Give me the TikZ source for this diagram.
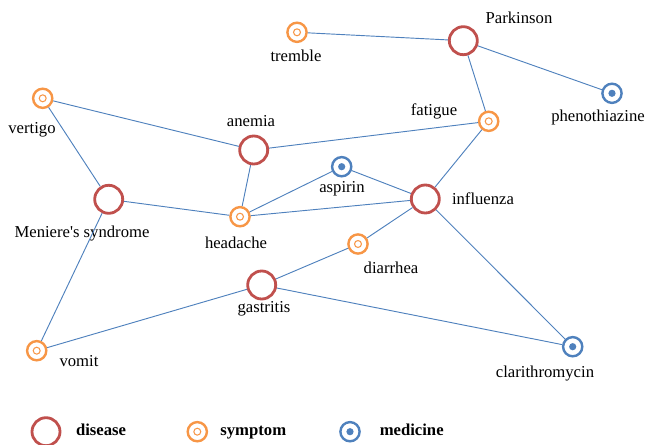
\documentclass[tikz,border=0pt]{standalone}
\usepackage{fontspec}
\setmainfont{Liberation Serif}
\usepackage{tikz}

\definecolor{diseasered}{HTML}{C0504D}
\definecolor{symptomorange}{HTML}{F79646}
\definecolor{medicineblue}{HTML}{4F81BD}

\begin{document}
\begin{tikzpicture}[x=0.75pt,y=-0.75pt,
		disease/.style={circle,draw=diseasered,line width=2.1pt,minimum size=21pt,inner sep=0pt},
		symptom/.style={circle,draw=symptomorange,line width=1.8pt,minimum size=14.4pt,inner sep=0pt,
			path picture={\draw[symptomorange,line width=0.8pt] (path picture bounding box.center) circle (2.6pt);}},
		medicine/.style={circle,draw=medicineblue,line width=1.8pt,minimum size=14.4pt,inner sep=0pt,
			path picture={\fill[medicineblue] (path picture bounding box.center) circle (2.7pt);}},
		lbl/.style={inner sep=0pt,font={\fontsize{12.5}{15}\selectfont}},
		legend/.style={inner sep=0pt,text height=1.6ex,text depth=0.4ex,font={\fontsize{12.5}{15}\selectfont\bfseries}},
		edge/.style={draw=medicineblue,line width=0.7pt}]

			\useasboundingbox (0,0) rectangle (646,445);

				% diseases
				\node[disease] (parkinson) at (463.3,40.7) {};
				\node[disease] (anemia) at (253.7,150) {};
				\node[disease] (meniere) at (108.7,199.3) {};
				\node[disease] (influenza) at (425.3,199) {};
				\node[disease] (gastritis) at (261.7,285) {};

				% symptoms
				\node[symptom] (tremble) at (297,32.3) {};
				\node[symptom] (vertigo) at (42.7,98.3) {};
				\node[symptom] (fatigue) at (488.7,121.3) {};
				\node[symptom] (headache) at (240,216.7) {};
				\node[symptom] (diarrhea) at (358,244) {};
				\node[symptom] (vomit) at (36.7,350.7) {};

				% medicines
				\node[medicine] (phenothiazine) at (612,93.3) {};
				\node[medicine] (aspirin) at (341.7,166.7) {};
				\node[medicine] (clarithromycin) at (572.7,346.7) {};

				% labels
				\node[lbl] (tremble-l) at (296,56) {tremble};
				\node[lbl] (parkinson-l) at (519,18) {Parkinson};
				\node[lbl] (phenothiazine-l) at (598,117) {phenothiazine};
				\node[lbl] (vertigo-l) at (32,130) {vertigo};
				\node[lbl] (fatigue-l) at (434,111) {fatigue};
				\node[lbl] (anemia-l) at (251,121) {anemia};
				\node[lbl] (aspirin-l) at (342,189) {aspirin};
				\node[lbl] (meniere-l) at (82,234) {Meniere\textquotesingle s syndrome};
				\node[lbl] (influenza-l) at (483,199) {influenza};
				\node[lbl] (headache-l) at (236,243) {headache};
				\node[lbl] (diarrhea-l) at (391,268) {diarrhea};
				\node[lbl] (gastritis-l) at (264,309) {gastritis};
				\node[lbl] (vomit-l) at (79,361) {vomit};
				\node[lbl] (clarithromycin-l) at (545,374) {clarithromycin};

				% edges
				\draw[edge] (tremble) -- (parkinson);
				\draw[edge] (parkinson) -- (phenothiazine);
				\draw[edge] (parkinson) -- (fatigue);
				\draw[edge] (vertigo) -- (anemia);
				\draw[edge] (vertigo) -- (meniere);
				\draw[edge] (anemia) -- (fatigue);
				\draw[edge] (anemia) -- (headache);
				\draw[edge] (meniere) -- (headache);
				\draw[edge] (meniere) -- (vomit);
				\draw[edge] (headache) -- (aspirin);
				\draw[edge] (headache) -- (influenza);
				\draw[edge] (aspirin) -- (influenza);
				\draw[edge] (fatigue) -- (influenza);
				\draw[edge] (influenza) -- (diarrhea);
				\draw[edge] (influenza) -- (clarithromycin);
				\draw[edge] (diarrhea) -- (gastritis);
				\draw[edge] (gastritis) -- (vomit);
				\draw[edge] (gastritis) -- (clarithromycin);

				% legend
				\node[disease] (key-disease) at (46,431.7) {};
				\node[legend] (key-disease-l) at (101,431.7) {disease};
				\node[symptom] (key-symptom) at (197.3,431.7) {};
				\node[legend] (key-symptom-l) at (253.3,431.7) {symptom};
				\node[medicine] (key-medicine) at (350,431.7) {};
				\node[legend] (key-medicine-l) at (411.7,431.7) {medicine};

			\end{tikzpicture}
\end{document}
